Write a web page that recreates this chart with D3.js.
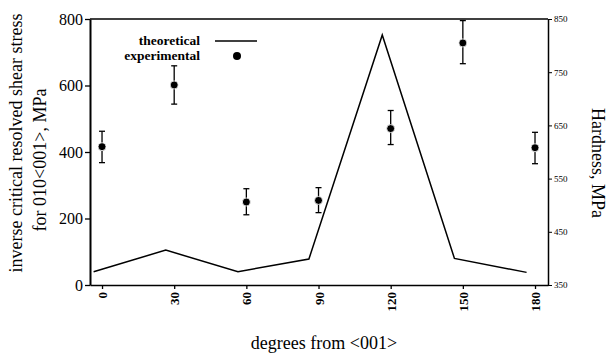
<!DOCTYPE html>
<html>
<head>
<meta charset="utf-8">
<script src="https://d3js.org/d3.v7.min.js"></script>
<style>
  body { margin: 0; background: #fff; }
  text { font-family: "Liberation Serif", "Times New Roman", serif; fill: #000; }
</style>
</head>
<body>
<script>
// theoretical curve (left axis)
var theoDeg = [-3.5, 26.5, 56.5, 86, 116.5, 146.5, 176.5];
var theoVal = [40, 105, 40, 78, 752, 80, 38];
// experimental hardness (right axis) with error bars
var expDeg = [0, 30, 60, 90, 120, 150, 180];
var expHard = [610, 726, 506, 509, 644, 805, 608];
var expHi = [639, 762, 531, 533, 678, 847, 637];
var expLo = [580, 690, 482, 486, 614, 766, 578];

var xTicks = [0, 30, 60, 90, 120, 150, 180];
var leftTicks = [0, 200, 400, 600, 800];
var rightTicks = [350, 450, 550, 650, 750, 850];

var w = 607, h = 358;
var L = 90, R = 548, T = 19, B = 285;

var svg = d3.select("body").append("svg")
    .attr("width", w).attr("height", h);

var x = d3.scaleLinear().domain([-5, 185.4]).range([L, R]);
var yL = d3.scaleLinear().domain([0, 800]).range([B, T]);
var yR = d3.scaleLinear().domain([350, 850]).range([B, T]);

// top edge of the frame
svg.append("line").attr("x1", L).attr("x2", R).attr("y1", T).attr("y2", T)
    .attr("stroke", "#000").attr("stroke-width", 1.5);

// left axis
var gl = svg.append("g").attr("transform", "translate(" + L + ",0)")
    .call(d3.axisLeft(yL).tickValues(leftTicks).tickSize(5).tickPadding(2).tickSizeOuter(0));
gl.select(".domain").attr("stroke-width", 2);
gl.selectAll(".tick line").attr("stroke-width", 1.3);
gl.selectAll("text").style("font-size", "16px").style("font-family", "Liberation Serif");

// right axis
var gr = svg.append("g").attr("transform", "translate(" + R + ",0)")
    .call(d3.axisRight(yR).tickValues(rightTicks).tickSize(4).tickPadding(2).tickSizeOuter(0));
gr.select(".domain").attr("stroke-width", 1.5);
gr.selectAll("text").style("font-size", "9px").style("font-family", "Liberation Serif");

// bottom axis, labels turned to read upward
var gb = svg.append("g").attr("transform", "translate(0," + B + ")")
    .call(d3.axisBottom(x).tickValues(xTicks).tickSize(4).tickSizeOuter(0));
gb.select(".domain").attr("stroke-width", 1.5);
gb.selectAll(".tick line").attr("stroke-width", 1.3);
gb.selectAll("text")
    .style("font-size", "13px").style("font-weight", "bold").style("font-family", "Liberation Serif")
    .attr("transform", "rotate(-90)")
    .attr("text-anchor", "end")
    .attr("x", -7).attr("y", 0).attr("dy", "0.35em");

// theoretical line
var line = d3.line()
    .x(function(d, i) { return x(theoDeg[i]); })
    .y(function(d) { return yL(d); });
svg.append("path").datum(theoVal)
    .attr("d", line)
    .attr("fill", "none").attr("stroke", "#000").attr("stroke-width", 1.5);

// error bars
var eb = svg.selectAll("g.eb").data(expHard).enter().append("g").attr("class", "eb");
eb.append("line")
    .attr("x1", function(d, i) { return x(expDeg[i]); })
    .attr("x2", function(d, i) { return x(expDeg[i]); })
    .attr("y1", function(d, i) { return yR(expHi[i]); })
    .attr("y2", function(d, i) { return yR(expLo[i]); })
    .attr("stroke", "#000").attr("stroke-width", 1.3);
eb.append("line")
    .attr("x1", function(d, i) { return x(expDeg[i]) - 3; })
    .attr("x2", function(d, i) { return x(expDeg[i]) + 3; })
    .attr("y1", function(d, i) { return yR(expHi[i]); })
    .attr("y2", function(d, i) { return yR(expHi[i]); })
    .attr("stroke", "#000").attr("stroke-width", 1.3);
eb.append("line")
    .attr("x1", function(d, i) { return x(expDeg[i]) - 3; })
    .attr("x2", function(d, i) { return x(expDeg[i]) + 3; })
    .attr("y1", function(d, i) { return yR(expLo[i]); })
    .attr("y2", function(d, i) { return yR(expLo[i]); })
    .attr("stroke", "#000").attr("stroke-width", 1.3);
eb.append("circle")
    .attr("cx", function(d, i) { return x(expDeg[i]); })
    .attr("cy", function(d) { return yR(d); })
    .attr("r", 4).attr("fill", "#000").attr("stroke", "#fff").attr("stroke-width", 0.8);

// legend
svg.append("text").attr("x", 200).attr("y", 45).attr("text-anchor", "end")
    .style("font-size", "13.5px").style("font-weight", "bold").text("theoretical");
svg.append("text").attr("x", 200).attr("y", 60).attr("text-anchor", "end")
    .style("font-size", "13.5px").style("font-weight", "bold").text("experimental");
svg.append("line").attr("x1", 215).attr("x2", 257).attr("y1", 41).attr("y2", 41)
    .attr("stroke", "#000").attr("stroke-width", 1.3);
svg.append("circle").attr("cx", 237).attr("cy", 56).attr("r", 4).attr("fill", "#000");

// axis titles
svg.append("text").attr("x", 324).attr("y", 349).attr("text-anchor", "middle")
    .style("font-size", "18px").text("degrees from <001>");
svg.append("text").attr("transform", "translate(22,143) rotate(-90)").attr("text-anchor", "middle")
    .style("font-size", "18px").text("inverse critical resolved shear stress");
svg.append("text").attr("transform", "translate(46,160) rotate(-90)").attr("text-anchor", "middle")
    .style("font-size", "18px").text("for 010<001>, MPa");
svg.append("text").attr("transform", "translate(592,163) rotate(90)").attr("text-anchor", "middle")
    .style("font-size", "18px").text("Hardness, MPa");
</script>
</body>
</html>
